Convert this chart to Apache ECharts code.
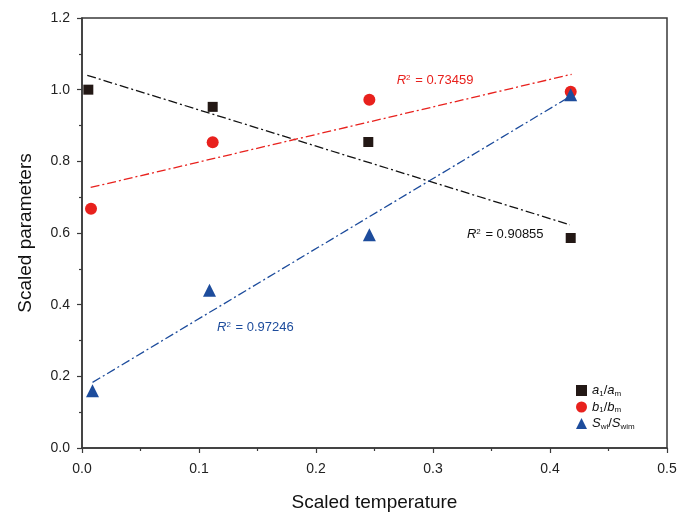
<!DOCTYPE html>
<html><head><meta charset="utf-8">
<script src="https://cdn.jsdelivr.net/npm/echarts@6/dist/echarts.min.js"></script>
<style>html,body{margin:0;padding:0;background:#fff}#c{width:685px;height:512px}</style>
</head><body><div id="c"></div>
<script>
// Data
const aX = [0.0054, 0.1117, 0.2447, 0.4177];
const aY = [1.000, 0.952, 0.854, 0.586];
const bX = [0.0077, 0.1117, 0.2456, 0.4177];
const bY = [0.668, 0.853, 0.972, 0.994];
const sX = [0.0090, 0.1090, 0.2456, 0.4177];
const sY = [0.160, 0.440, 0.595, 0.986];
// fitted line endpoints
const aFitX = [0.0045, 0.4170], aFitY = [1.040, 0.623];
const bFitX = [0.0074, 0.4185], bFitY = [0.727, 1.043];
const sFitX = [0.0090, 0.4177], sFitY = [0.183, 0.982];
const r2Labels = ['0.90855', '0.73459', '0.97246'];
const r2Pos = [[0.329, 0.595], [0.269, 1.026], [0.1154, 0.336]];
const xTicks = [0, 0.1, 0.2, 0.3, 0.4, 0.5];
const yTicks = [0, 0.2, 0.4, 0.6, 0.8, 1.0, 1.2];

const zip = (xs, ys) => xs.map((x, i) => [x, ys[i]]);
const cBlack = '#231815', cRed = '#e8211d', cBlue = '#1d4c9c';
const r2Colors = ['#111', cRed, cBlue];
const font = 'Arial, "Liberation Sans", sans-serif';

const chart = echarts.init(document.getElementById('c'), null, { renderer: 'canvas' });
const axisCommon = {
  axisLine: { show: true, lineStyle: { color: '#3a3a3a', width: 1.5 } },
  axisTick: { show: true, inside: false, length: 5, lineStyle: { color: '#3a3a3a', width: 1.2 } },
  minorTick: { show: true, splitNumber: 2, length: 3, lineStyle: { color: '#3a3a3a', width: 1.2 } },
  splitLine: { show: false },
  axisLabel: { color: '#222', fontFamily: font, fontSize: 14, formatter: v => v.toFixed(1) },
  nameTextStyle: { color: '#111', fontFamily: font, fontSize: 19 }
};
const legendRich = {
  i: { fontFamily: font, fontSize: 13, fontStyle: 'italic', color: '#111' },
  n: { fontFamily: font, fontSize: 13, color: '#111' },
  s: { fontFamily: font, fontSize: 8, color: '#111', padding: [6, 0, 0, 0] }
};
const dashDot = [9, 3, 2, 3];
chart.setOption({
  animation: false,
  grid: { left: 82, right: 18, top: 18, bottom: 64, outerBoundsMode: 'none', containLabel: false,
          show: true, borderColor: '#3a3a3a', borderWidth: 1.5, backgroundColor: 'transparent' },
  xAxis: Object.assign({}, axisCommon, {
    type: 'value', min: xTicks[0], max: xTicks[xTicks.length - 1], interval: 0.1,
    name: 'Scaled temperature', nameLocation: 'middle', nameGap: 45,
    axisLabel: Object.assign({}, axisCommon.axisLabel, { margin: 14 })
  }),
  yAxis: Object.assign({}, axisCommon, {
    type: 'value', min: yTicks[0], max: yTicks[yTicks.length - 1], interval: 0.2,
    name: 'Scaled parameters', nameLocation: 'middle', nameGap: 47,
    axisLabel: Object.assign({}, axisCommon.axisLabel, { margin: 12 })
  }),
  legend: {
    left: 571, top: 379, orient: 'vertical', itemGap: 3, itemWidth: 11, itemHeight: 11,
    data: ['a', 'b', 's'],
    formatter: n => n === 'a' ? '{i|a}{s|1}{n|/}{i|a}{s|m}'
                : n === 'b' ? '{i|b}{s|1}{n|/}{i|b}{s|m}'
                : '{i|S}{s|wi}{n|/}{i|S}{s|wim}',
    textStyle: { rich: legendRich }
  },
  series: [
    { name: 'aFit', type: 'line', data: zip(aFitX, aFitY), symbol: 'none', silent: true,
      lineStyle: { color: '#111', width: 1.3, type: dashDot } },
    { name: 'bFit', type: 'line', data: zip(bFitX, bFitY), symbol: 'none', silent: true,
      lineStyle: { color: cRed, width: 1.3, type: dashDot } },
    { name: 'sFit', type: 'line', data: zip(sFitX, sFitY), symbol: 'none', silent: true,
      lineStyle: { color: cBlue, width: 1.3, type: dashDot } },
    { name: 'a', type: 'scatter', data: zip(aX, aY), symbol: 'rect', symbolSize: 10, itemStyle: { color: cBlack, opacity: 1 } },
    { name: 'b', type: 'scatter', data: zip(bX, bY), symbol: 'circle', symbolSize: 12, itemStyle: { color: cRed, opacity: 1 } },
    { name: 's', type: 'scatter', data: zip(sX, sY), symbol: 'triangle', symbolSize: 13, itemStyle: { color: cBlue, opacity: 1 } }
  ]
});
// R² annotations placed at data coordinates
const graphics = r2Labels.map((lab, i) => {
  const p = chart.convertToPixel({ gridIndex: 0 }, r2Pos[i]);
  const c = r2Colors[i];
  return {
    type: 'text', x: p[0], y: p[1], silent: true,
    style: {
      text: '{i|R}{s|2}{n| = ' + lab + '}', verticalAlign: 'middle', align: 'left',
      rich: {
        i: { fontFamily: font, fontSize: 13, fontStyle: 'italic', fill: c },
        s: { fontFamily: font, fontSize: 8, fill: c, padding: [0, 1, 6, 0] },
        n: { fontFamily: font, fontSize: 13, fill: c }
      }
    }
  };
});
chart.setOption({ graphic: graphics });
</script></body></html>
